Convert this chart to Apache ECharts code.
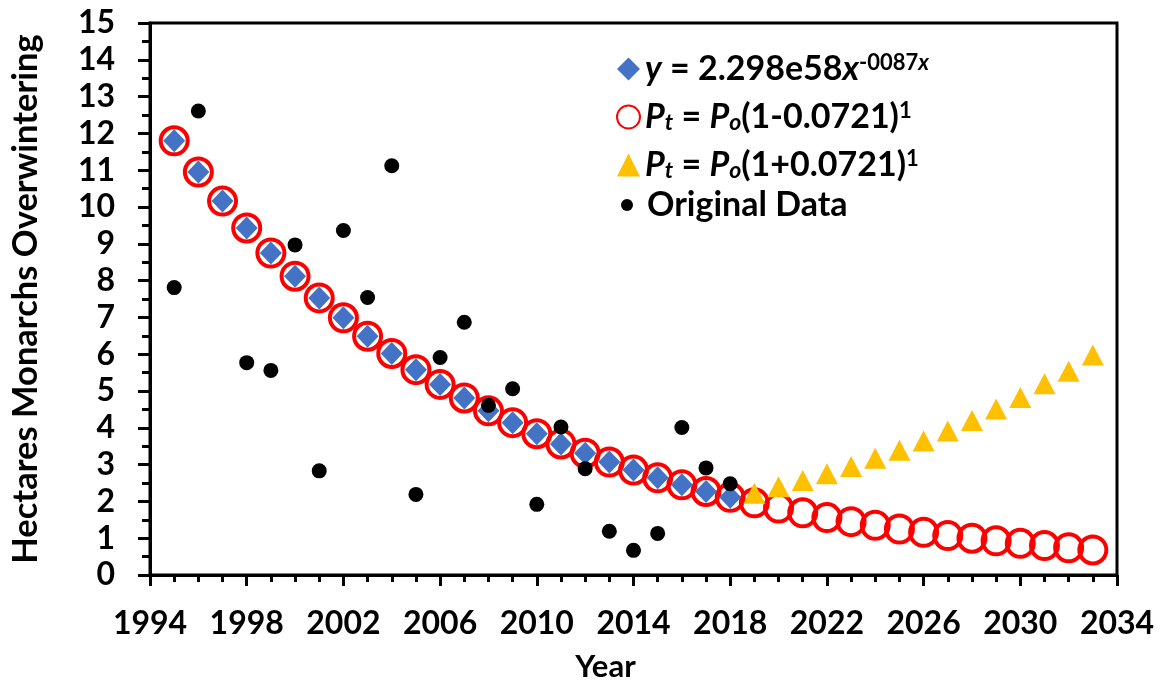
<!DOCTYPE html>
<html>
<head>
<meta charset="utf-8">
<script src="https://cdn.jsdelivr.net/npm/echarts@6/dist/echarts.min.js"></script>
<style>
  html, body { margin: 0; padding: 0; background: #fff; }
  #chart { width: 1164px; height: 688px; }
</style>
</head>
<body>
<div id="chart"></div>
<script>
// Monarch overwintering area (hectares): survey data, fitted trend and projections.
const obsYears = [1995, 1996, 1998, 1999, 2000, 2001, 2002, 2003, 2004, 2005, 2006, 2007,
                  2008, 2009, 2010, 2011, 2012, 2013, 2014, 2015, 2016, 2017, 2018];
const obsValues = [7.81, 12.61, 5.77, 5.56, 8.97, 2.83, 9.36, 7.54, 11.12, 2.19, 5.91, 6.87,
                   4.61, 5.06, 1.92, 4.02, 2.89, 1.19, 0.67, 1.13, 4.01, 2.91, 2.48];

const fitYears = [1995, 1996, 1997, 1998, 1999, 2000, 2001, 2002, 2003, 2004, 2005, 2006,
                  2007, 2008, 2009, 2010, 2011, 2012, 2013, 2014, 2015, 2016, 2017, 2018];
const fitValues = [11.80, 10.95, 10.16, 9.43, 8.75, 8.12, 7.53, 6.99, 6.49, 6.02, 5.58, 5.18,
                   4.81, 4.46, 4.14, 3.84, 3.56, 3.31, 3.07, 2.85, 2.64, 2.45, 2.27, 2.11];

const declineYears = [1995, 1996, 1997, 1998, 1999, 2000, 2001, 2002, 2003, 2004, 2005, 2006,
                      2007, 2008, 2009, 2010, 2011, 2012, 2013, 2014, 2015, 2016, 2017, 2018,
                      2019, 2020, 2021, 2022, 2023, 2024, 2025, 2026, 2027, 2028, 2029, 2030,
                      2031, 2032, 2033];
const declineValues = [11.80, 10.95, 10.16, 9.43, 8.75, 8.12, 7.53, 6.99, 6.49, 6.02, 5.58, 5.18,
                       4.81, 4.46, 4.14, 3.84, 3.56, 3.31, 3.07, 2.85, 2.64, 2.45, 2.27, 2.11,
                       1.96, 1.82, 1.69, 1.56, 1.45, 1.35, 1.25, 1.16, 1.07, 1.00, 0.93, 0.86,
                       0.80, 0.74, 0.68];

const growthYears = [2019, 2020, 2021, 2022, 2023, 2024, 2025, 2026, 2027, 2028, 2029, 2030,
                     2031, 2032, 2033];
const growthValues = [2.22, 2.40, 2.57, 2.75, 2.95, 3.17, 3.39, 3.64, 3.91, 4.20, 4.51, 4.82,
                      5.20, 5.54, 5.98];

const xTicks = { min: 1994, max: 2034, step: 4 };
const yTicks = { min: 0, max: 15, step: 1 };

const seriesNames = {
  fit: 'Exponential fit',
  decline: 'Decline 7.21%',
  growth: 'Growth 7.21%',
  data: 'Original Data'
};

// legend labels as rich text (italics, sub- and superscripts)
const legendLabels = {
  [seriesNames.fit]: '{bi|y}{b| = 2.298e58}{bi|x}{sup|-0087}{supi|x}',
  [seriesNames.decline]: '{bi|P}{subi|t}{b| = }{bi|P}{subi|o}{b|(1-0.0721)}{sup|1}',
  [seriesNames.growth]: '{bi|P}{subi|t}{b| = }{bi|P}{subi|o}{b|(1+0.0721)}{sup|1}',
  [seriesNames.data]: '{b|Original Data}'
};

const FONT = 'Lato';
const richStyles = {
  b: { fontFamily: FONT, fontWeight: 'bold', fontSize: 34, lineHeight: 34, color: '#000' },
  bi: { fontFamily: FONT, fontWeight: 'bold', fontStyle: 'italic', fontSize: 34, lineHeight: 34, color: '#000' },
  sup: { fontFamily: FONT, fontWeight: 'bold', fontSize: 22, lineHeight: 16, verticalAlign: 'top', color: '#000' },
  supi: { fontFamily: FONT, fontWeight: 'bold', fontStyle: 'italic', fontSize: 22, lineHeight: 16, verticalAlign: 'top', color: '#000' },
  subi: { fontFamily: FONT, fontWeight: 'bold', fontStyle: 'italic', fontSize: 23, lineHeight: 1, verticalAlign: 'bottom', color: '#000' }
};

function pairs(xs, ys) { return xs.map((x, i) => [x, ys[i]]); }

const chart = echarts.init(document.getElementById('chart'), null, { renderer: 'canvas' });

const option = {
  backgroundColor: '#fff',
  animation: false,
  grid: {
    left: 145, right: 47, top: 23, bottom: 113,
    show: true, borderColor: '#000', borderWidth: 3, backgroundColor: 'transparent'
  },
  legend: [
    {
      orient: 'vertical',
      left: 611, top: 47,
      itemWidth: 23, itemHeight: 23, itemGap: 14,
      data: [seriesNames.fit, seriesNames.decline, seriesNames.growth],
      formatter: (name) => legendLabels[name],
      textStyle: { padding: [0, 0, 0, 0], rich: richStyles },
      selectedMode: false
    },
    {
      orient: 'vertical',
      left: 616, top: 183,
      itemWidth: 12, itemHeight: 12,
      data: [seriesNames.data],
      formatter: (name) => legendLabels[name],
      textStyle: { padding: [0, 0, 0, 9], rich: richStyles },
      selectedMode: false
    }
  ],
  xAxis: {
    type: 'value',
    min: xTicks.min, max: xTicks.max, interval: xTicks.step,
    name: 'Year',
    nameLocation: 'middle',
    nameGap: 76,
    nameTextStyle: { fontFamily: FONT, fontWeight: 'bold', fontSize: 31, color: '#000', padding: [0, 56, 0, 0] },
    axisLine: { show: true, onZero: false, lineStyle: { color: '#000', width: 3 } },
    axisTick: { show: true, inside: false, length: 11, lineStyle: { color: '#000', width: 3 } },
    minorTick: { show: true, splitNumber: 4, length: 7, lineStyle: { color: '#000', width: 3 } },
    splitLine: { show: false },
    axisLabel: {
      margin: 33,
      formatter: (v) => String(v),
      fontFamily: FONT, fontWeight: 'bold', fontSize: 32, color: '#000'
    }
  },
  yAxis: {
    type: 'value',
    min: yTicks.min, max: yTicks.max, interval: yTicks.step,
    name: 'Hectares Monarchs Overwintering',
    nameLocation: 'middle',
    nameGap: 107,
    nameTextStyle: { fontFamily: FONT, fontWeight: 'bold', fontSize: 34.5, color: '#000' },
    axisLine: { show: true, onZero: false, lineStyle: { color: '#000', width: 3 } },
    axisTick: { show: true, inside: false, length: 12, lineStyle: { color: '#000', width: 3 } },
    minorTick: { show: true, splitNumber: 2, length: 8, lineStyle: { color: '#000', width: 3 } },
    splitLine: { show: false },
    axisLabel: {
      margin: 35,
      fontFamily: FONT, fontWeight: 'bold', fontSize: 32, color: '#000'
    }
  },
  series: [
    {
      name: seriesNames.decline,
      type: 'scatter',
      z: 2,
      symbol: 'circle',
      symbolSize: 27,
      itemStyle: { color: 'rgba(255,255,255,0)', borderColor: '#ff0000', borderWidth: 4, opacity: 1 },
      data: pairs(declineYears, declineValues)
    },
    {
      name: seriesNames.fit,
      type: 'scatter',
      z: 3,
      symbol: 'diamond',
      symbolSize: [22, 23],
      itemStyle: { color: '#4472c4', opacity: 1 },
      data: pairs(fitYears, fitValues)
    },
    {
      name: seriesNames.growth,
      type: 'scatter',
      z: 4,
      symbol: 'triangle',
      symbolSize: [22, 21],
      itemStyle: { color: '#ffc000', opacity: 1 },
      data: pairs(growthYears, growthValues)
    },
    {
      name: seriesNames.data,
      type: 'scatter',
      z: 5,
      symbol: 'circle',
      symbolSize: 15,
      itemStyle: { color: '#000', opacity: 1 },
      data: pairs(obsYears, obsValues)
    }
  ]
};

chart.setOption(option);
</script>
</body>
</html>
